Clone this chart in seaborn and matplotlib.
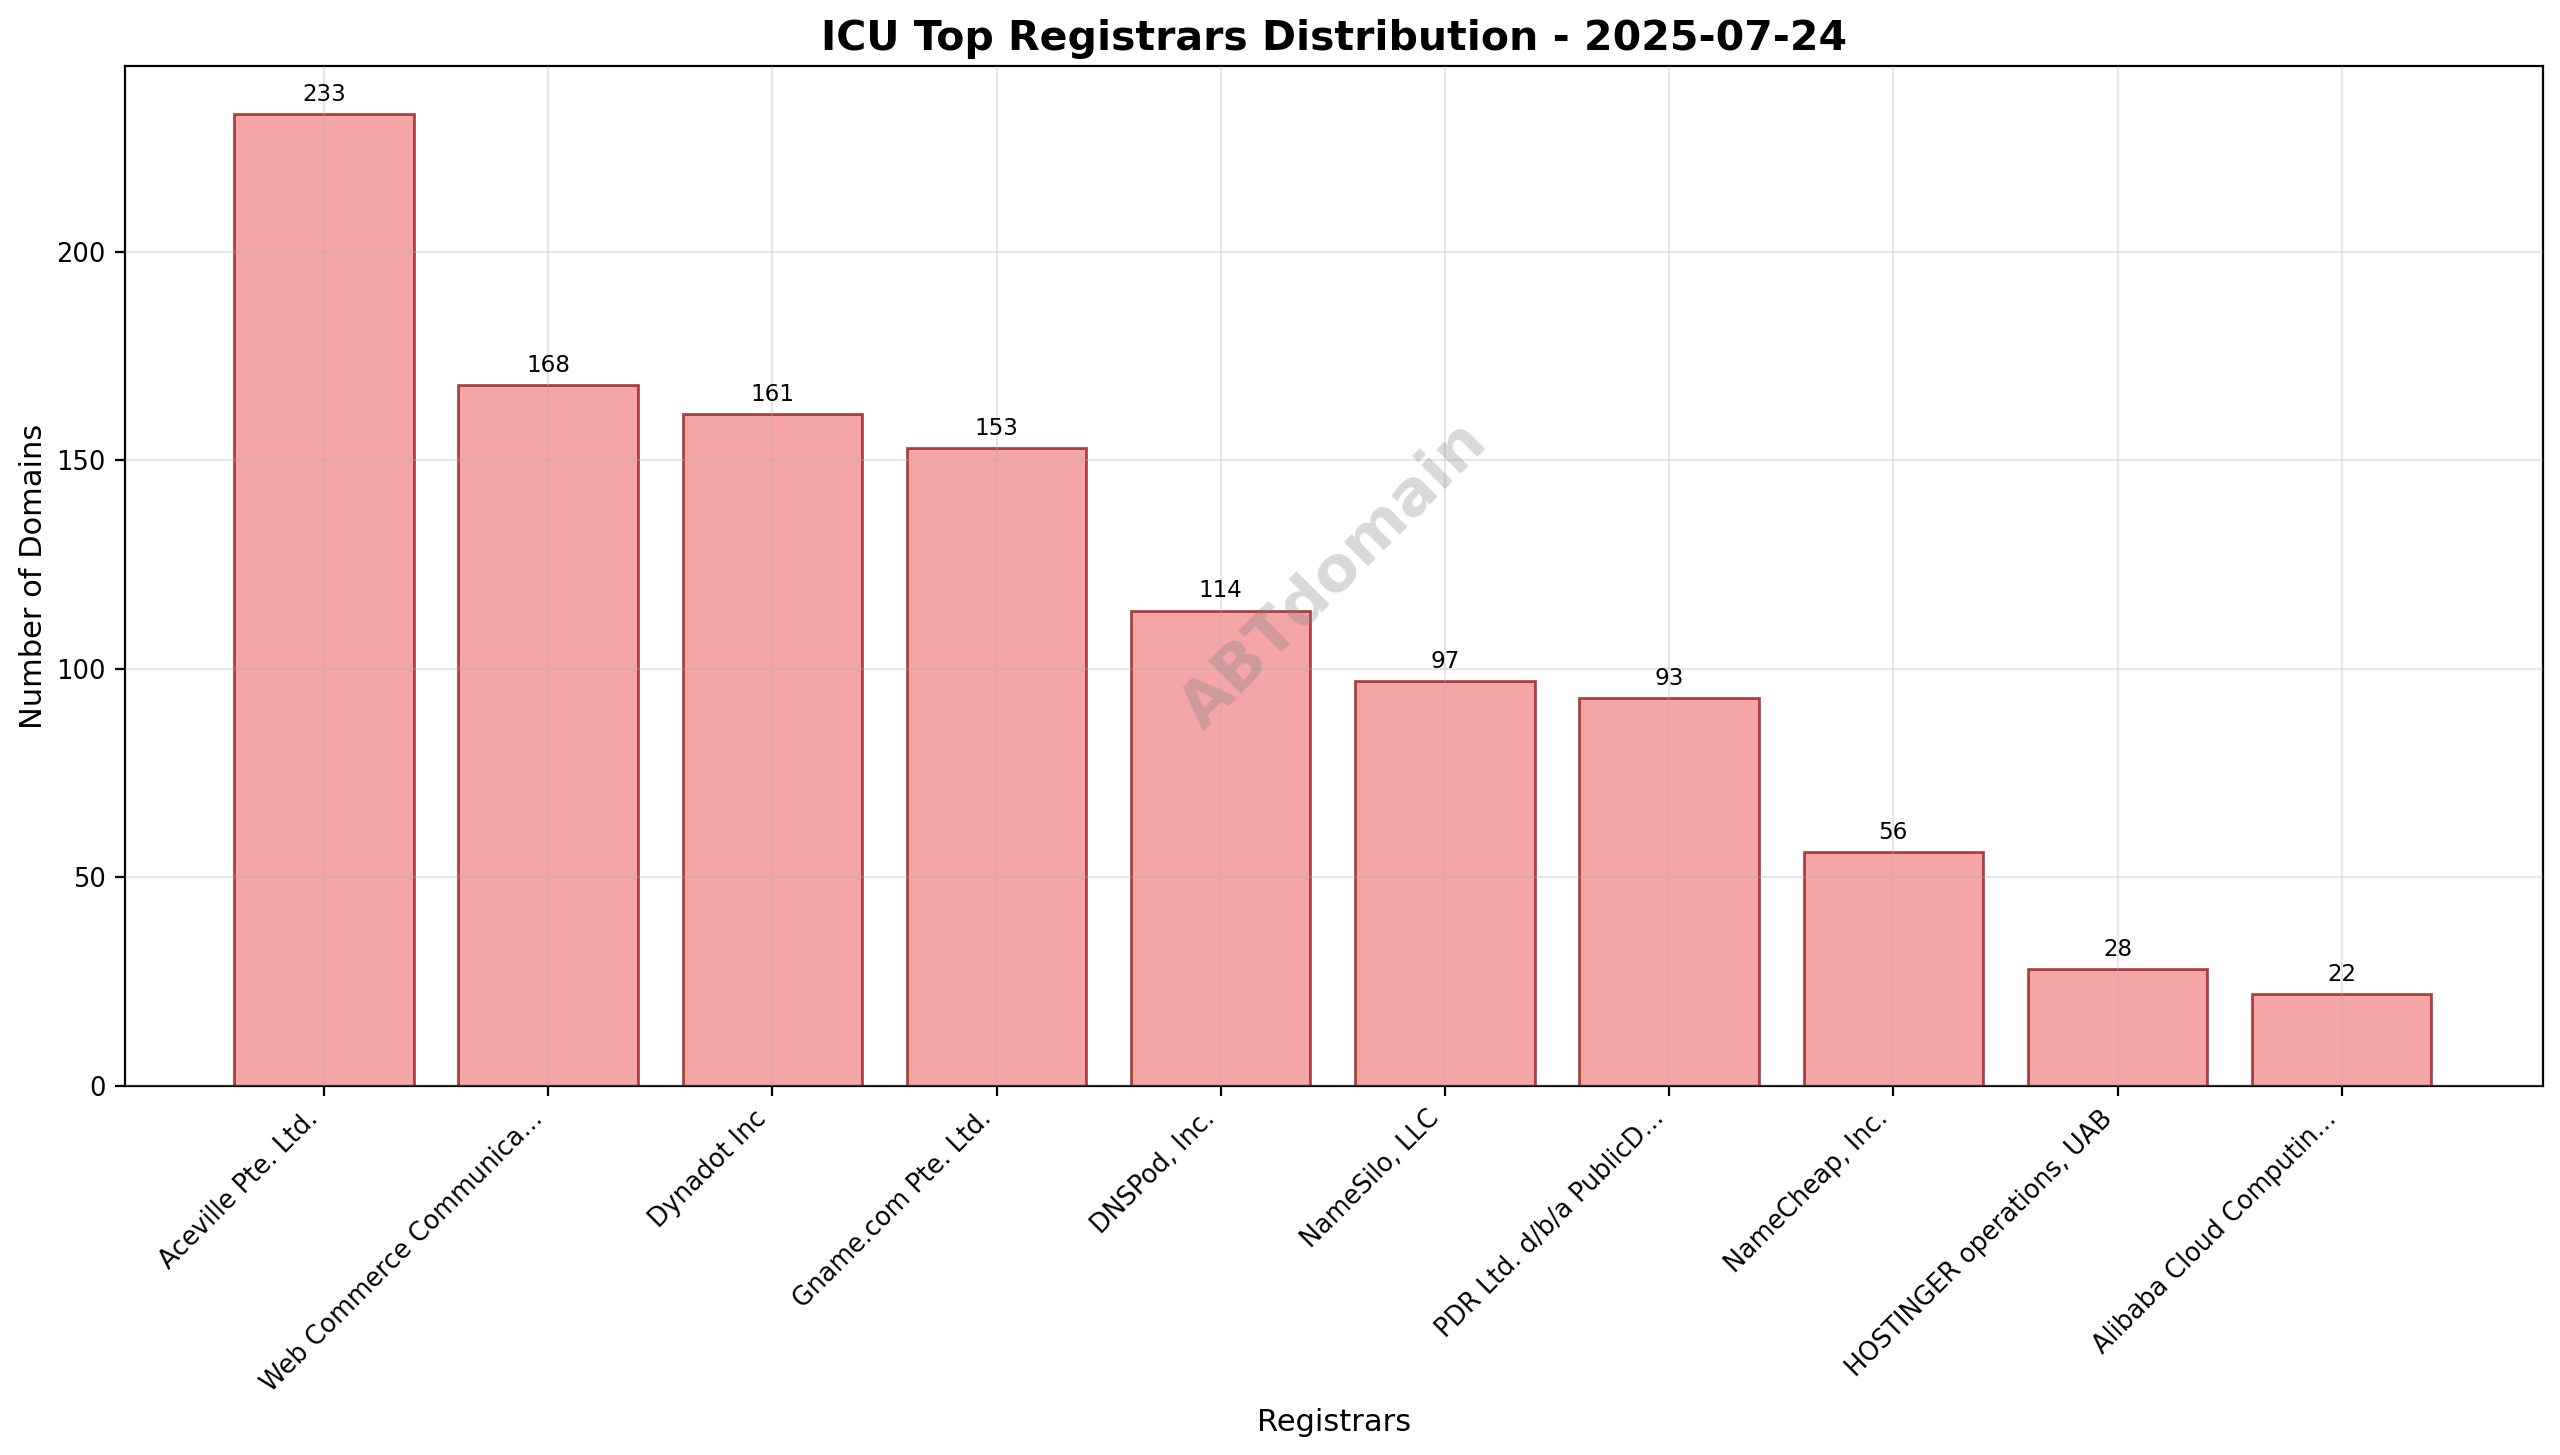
import matplotlib
matplotlib.use("Agg")
import matplotlib.pyplot as plt
import seaborn as sns
import pandas as pd

registrars = ["Aceville Pte. Ltd.", "Web Commerce Communica...", "Dynadot Inc", "Gname.com Pte. Ltd.",
              "DNSPod, Inc.", "NameSilo, LLC", "PDR Ltd. d/b/a PublicD...", "NameCheap, Inc.",
              "HOSTINGER operations, UAB", "Alibaba Cloud Computin..."]
domains = [233, 168, 161, 153, 114, 97, 93, 56, 28, 22]

df = pd.DataFrame({"r": registrars, "d": domains})
fig, ax = plt.subplots(figsize=(12.8, 7.275), dpi=200)
sns.barplot(data=df, x="r", y="d", ax=ax, color="lightcoral", saturation=1, width=0.8)
for p in ax.patches:
    p.set_facecolor("lightcoral")
    p.set_edgecolor("darkred")
    p.set_alpha(0.7)
    p.set_linewidth(1)
for i, v in enumerate(domains):
    ax.annotate(str(v), (i, v), xytext=(0, 3), textcoords="offset points", ha="center", va="bottom", fontsize=8.3)
ax.set_title("ICU Top Registrars Distribution - 2025-07-24", fontsize=14.75, fontweight="bold")
ax.set_xlabel("Registrars", fontsize=11, labelpad=4.2)
ax.set_ylabel("Number of Domains", fontsize=11, labelpad=3)
ax.set_xlim(-0.885, 9.899)
ax.set_ylim(0, 244.5)
ax.tick_params(axis="y", labelsize=9.25)
ax.set_xticks(range(len(registrars)))
ax.set_xticklabels(registrars, rotation=45, ha="right", fontsize=9.2)
ax.grid(True, alpha=0.3)
ax.set_axisbelow(False)
ax.text(0.5, 0.5, "ABTdomain", transform=ax.transAxes, fontsize=22.8, color="gray", alpha=0.3,
        fontweight="bold", rotation=45, ha="center", va="center")
fig.subplots_adjust(left=0.049, right=0.9935, top=0.9545, bottom=0.2536)
fig.savefig("out.png", dpi=200)
